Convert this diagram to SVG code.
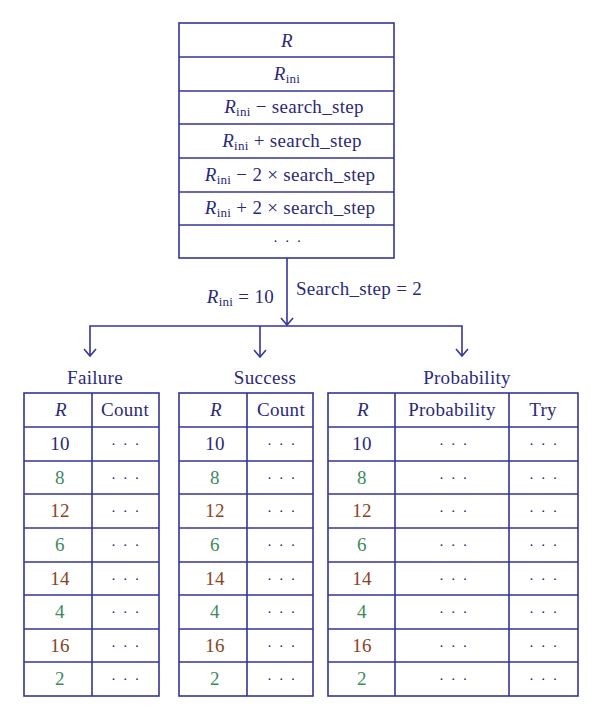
<svg xmlns="http://www.w3.org/2000/svg" width="600" height="719" viewBox="0 0 600 719">
<style>
.c{fill:#fff;stroke:#35359a;stroke-width:1.6}
.l{fill:none;stroke:#35359a;stroke-width:1.6}
text{font-family:"Liberation Serif","DejaVu Serif",serif;font-size:19px;fill:#2a2a78;text-anchor:middle;letter-spacing:0.3px}
.i{font-style:italic}
.s{font-size:13px}
.g{fill:#3d8a5c}
.b{fill:#8a4423}
.d{font-size:15px;letter-spacing:1.5px}
</style>
<rect width="600" height="719" fill="#fff"/>
<g id="top-table">
<rect class="c" x="179" y="23" width="215" height="235"/>
<path class="l" d="M179 57H394M179 91H394M179 124H394M179 158H394M179 192H394M179 225H394"/>
<text x="287" y="47" class="i">R</text>
<text x="287" y="80"><tspan class="i">R</tspan><tspan class="s" dy="3">ini</tspan></text>
<text x="294" y="113"><tspan class="i">R</tspan><tspan class="s" dy="3">ini</tspan><tspan dy="-3"> − search_step</tspan></text>
<text x="292" y="147"><tspan class="i">R</tspan><tspan class="s" dy="3">ini</tspan><tspan dy="-3"> + search_step</tspan></text>
<text x="290" y="181"><tspan class="i">R</tspan><tspan class="s" dy="3">ini</tspan><tspan dy="-3"> − 2 × search_step</tspan></text>
<text x="290" y="214"><tspan class="i">R</tspan><tspan class="s" dy="3">ini</tspan><tspan dy="-3"> + 2 × search_step</tspan></text>
<text x="288" y="246" class="d">· · ·</text>
</g>
<g id="connectors">
<path class="l" d="M287 258V325"/>
<path class="l" d="M281 318L287 325L293 318"/>
<path class="l" d="M90 356V326H462V356"/>
<path class="l" d="M260 326V357"/>
<path class="l" d="M84 349L90 356L96 349M254 350L260 357L266 350M456 349L462 356L468 349"/>
<text x="274" y="303" style="text-anchor:end"><tspan class="i">R</tspan><tspan class="s" dy="3">ini</tspan><tspan dy="-3"> = 10</tspan></text>
<text x="296" y="295" style="text-anchor:start">Search_step = 2</text>
</g>
<g id="failure">
<text x="95" y="384">Failure</text>
<rect class="c" x="24" y="393" width="135" height="303"/>
<path class="l" d="M92 393V696M24 427H159M24 461H159M24 494H159M24 528H159M24 562H159M24 595H159M24 629H159M24 662H159"/>
<text x="61" y="416" class="i">R</text><text x="125" y="416">Count</text>
<text x="60" y="450">10</text><text x="126" y="449" class="d">· · ·</text>
<text x="60" y="484" class="g">8</text><text x="126" y="483" class="d">· · ·</text>
<text x="60" y="517" class="b">12</text><text x="126" y="516" class="d">· · ·</text>
<text x="60" y="551" class="g">6</text><text x="126" y="550" class="d">· · ·</text>
<text x="60" y="585" class="b">14</text><text x="126" y="584" class="d">· · ·</text>
<text x="60" y="618" class="g">4</text><text x="126" y="617" class="d">· · ·</text>
<text x="60" y="652" class="b">16</text><text x="126" y="651" class="d">· · ·</text>
<text x="60" y="685" class="g">2</text><text x="126" y="684" class="d">· · ·</text>
</g>
<g id="success">
<text x="265" y="384">Success</text>
<rect class="c" x="179" y="393" width="134" height="303"/>
<path class="l" d="M247 393V696M179 427H313M179 461H313M179 494H313M179 528H313M179 562H313M179 595H313M179 629H313M179 662H313"/>
<text x="216" y="416" class="i">R</text><text x="281" y="416">Count</text>
<text x="215" y="450">10</text><text x="282" y="449" class="d">· · ·</text>
<text x="215" y="484" class="g">8</text><text x="282" y="483" class="d">· · ·</text>
<text x="215" y="517" class="b">12</text><text x="282" y="516" class="d">· · ·</text>
<text x="215" y="551" class="g">6</text><text x="282" y="550" class="d">· · ·</text>
<text x="215" y="585" class="b">14</text><text x="282" y="584" class="d">· · ·</text>
<text x="215" y="618" class="g">4</text><text x="282" y="617" class="d">· · ·</text>
<text x="215" y="652" class="b">16</text><text x="282" y="651" class="d">· · ·</text>
<text x="215" y="685" class="g">2</text><text x="282" y="684" class="d">· · ·</text>
</g>
<g id="probability">
<text x="467" y="384">Probability</text>
<rect class="c" x="328" y="393" width="250" height="303"/>
<path class="l" d="M395 393V696M509 393V696M328 427H578M328 461H578M328 494H578M328 528H578M328 562H578M328 595H578M328 629H578M328 662H578"/>
<text x="363" y="416" class="i">R</text><text x="452" y="416">Probability</text><text x="543" y="416">Try</text>
<text x="362" y="450">10</text><text x="454" y="449" class="d">· · ·</text><text x="544" y="449" class="d">· · ·</text>
<text x="362" y="484" class="g">8</text><text x="454" y="483" class="d">· · ·</text><text x="544" y="483" class="d">· · ·</text>
<text x="362" y="517" class="b">12</text><text x="454" y="516" class="d">· · ·</text><text x="544" y="516" class="d">· · ·</text>
<text x="362" y="551" class="g">6</text><text x="454" y="550" class="d">· · ·</text><text x="544" y="550" class="d">· · ·</text>
<text x="362" y="585" class="b">14</text><text x="454" y="584" class="d">· · ·</text><text x="544" y="584" class="d">· · ·</text>
<text x="362" y="618" class="g">4</text><text x="454" y="617" class="d">· · ·</text><text x="544" y="617" class="d">· · ·</text>
<text x="362" y="652" class="b">16</text><text x="454" y="651" class="d">· · ·</text><text x="544" y="651" class="d">· · ·</text>
<text x="362" y="685" class="g">2</text><text x="454" y="684" class="d">· · ·</text><text x="544" y="684" class="d">· · ·</text>
</g>
</svg>
